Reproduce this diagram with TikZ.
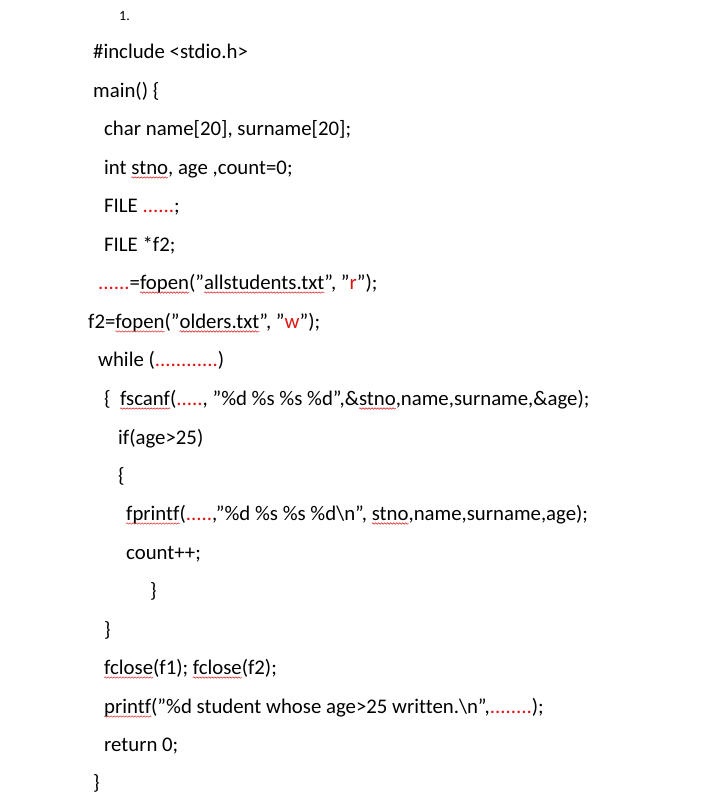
\documentclass[tikz,border=0pt]{standalone}
\usepackage{fontspec}
\setmainfont{Carlito}[Ligatures={NoCommon}]
\usetikzlibrary{decorations.pathmorphing}
\definecolor{wred}{RGB}{225,20,20}
\newdimen\sqw
\newcommand\sq[1]{\setbox0\hbox{#1}\sqw=\wd0\rlap{\tikz[baseline=0pt]{\useasboundingbox (0,0);\draw[wred,line width=0.5pt,decorate,decoration={snake,amplitude=0.7pt,segment length=3pt}] (0,-3.5pt)--(\sqw,-3.5pt);}}\box0}
\newcommand\rd[1]{\textcolor{wred}{#1}}
\newcommand\qq{\symbol{"22}}
\tikzset{code/.style={anchor=base west,inner sep=0pt,font=\fontsize{20.8}{24}\selectfont}}
\begin{document}
\begin{tikzpicture}[x=1pt,y=1pt]
\useasboundingbox[fill=white] (0,0) rectangle (714,-806);
\node[code,font=\fontsize{14}{16}\selectfont] (n0) at (119,-20) {1.};
\node[code] (l1) at (93,-58) {\#include <stdio.h>};
\node[code] (l2) at (93,-97) {main() \{};
\node[code] (l3) at (104,-135) {char name[20], surname[20];};
\node[code] (l4) at (104,-174) {int \sq{stno}, age ,count=0;};
\node[code] (l5) at (104,-212) {FILE \rd{......};};
\node[code] (l6) at (104,-251) {FILE *f2;};
\node[code] (l7) at (98,-289) {\rd{......}=\sq{fopen}(\qq\sq{allstudents.txt}\qq, \qq\rd{r}\qq);};
\node[code] (l8) at (88,-328) {f2=\sq{fopen}(\qq\sq{olders.txt}\qq, \qq\rd{w}\qq);};
\node[code] (l9) at (98,-366) {while (\rd{............})};
\node[code] (l10) at (104,-405) {\{ \ \sq{fscanf}(\rd{.....}, \qq\%d \%s \%s \%d\qq,\&\sq{stno},name,surname,\&age);};
\node[code] (l11) at (118,-444) {if(age>25)};
\node[code] (l12) at (118,-482) {\{};
\node[code] (l13) at (126,-520) {\sq{fprintf}(\rd{.....},\qq\%d \%s \%s \%d\textbackslash n\qq, \sq{stno},name,surname,age);};
\node[code] (l14) at (126,-559) {count++;};
\node[code] (l15) at (150,-597) {\}};
\node[code] (l16) at (104,-636) {\}};
\node[code] (l17) at (104,-674) {\sq{fclose}(f1); \sq{fclose}(f2);};
\node[code] (l18) at (104,-713) {\sq{printf}(\qq\%d student whose age>25 written.\textbackslash n\qq,\rd{........});};
\node[code] (l19) at (104,-751) {return 0;};
\node[code] (l20) at (93,-789) {\}};
\end{tikzpicture}
\end{document}
